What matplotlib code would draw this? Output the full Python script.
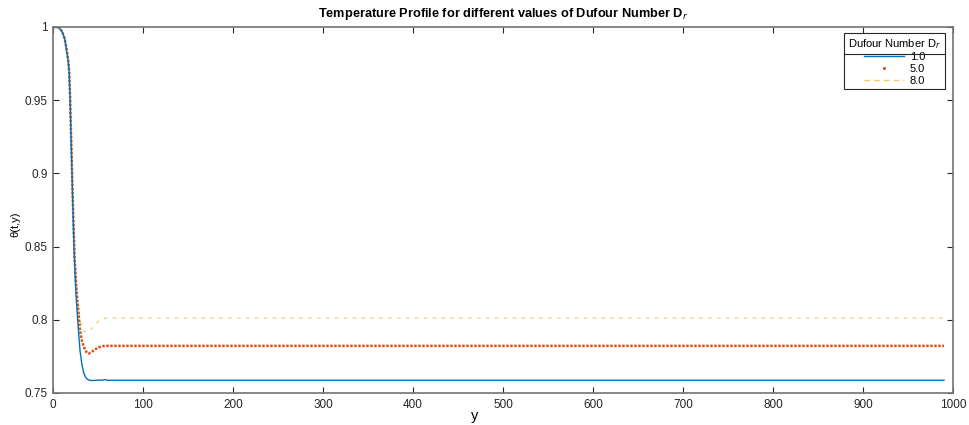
import numpy as np
import matplotlib
matplotlib.use('Agg')
import matplotlib.pyplot as plt
from matplotlib.lines import Line2D

plt.rcParams['font.family'] = ['Liberation Sans', 'DejaVu Sans']

# y positions (shared by all three series)
y_pos = [0, 4, 7, 10, 13, 15, 17, 18, 19, 20, 21, 22, 23, 24, 25, 26, 28, 30,
         32, 34, 36, 38, 40, 43, 46, 50, 55, 58, 60, 100, 200, 300, 400, 500,
         600, 700, 800, 900, 990]

theta_dr1 = [1.0, 1.0, 0.9993, 0.997, 0.992, 0.984, 0.976, 0.968, 0.950, 0.925,
             0.902, 0.878, 0.856, 0.838, 0.824, 0.813, 0.795, 0.779, 0.770,
             0.764, 0.761, 0.7595, 0.7588, 0.7585, 0.7586, 0.7588, 0.7588,
             0.7592, 0.7587, 0.7587, 0.7587, 0.7587, 0.7587, 0.7587, 0.7587,
             0.7587, 0.7587, 0.7587, 0.7587]

theta_dr5 = [1.0, 1.0, 0.9993, 0.997, 0.992, 0.985, 0.977, 0.969, 0.952, 0.928,
             0.905, 0.882, 0.861, 0.843, 0.831, 0.821, 0.807, 0.793, 0.786,
             0.782, 0.779, 0.7773, 0.7770, 0.7780, 0.7795, 0.7810, 0.7820,
             0.7822, 0.7822, 0.7822, 0.7822, 0.7822, 0.7822, 0.7822, 0.7822,
             0.7822, 0.7822, 0.7822, 0.7822]

theta_dr8 = [1.0, 1.0, 0.9993, 0.997, 0.992, 0.985, 0.977, 0.970, 0.953, 0.930,
             0.907, 0.885, 0.864, 0.846, 0.834, 0.825, 0.810, 0.800, 0.796,
             0.793, 0.7918, 0.7915, 0.7918, 0.7940, 0.7965, 0.7988, 0.8005,
             0.8010, 0.8013, 0.8012, 0.8012, 0.8012, 0.8012, 0.8012, 0.8012,
             0.8012, 0.8012, 0.8012, 0.8012]

labels = ['1.0', '5.0', '8.0']

fig = plt.figure(figsize=(9.69, 4.25), dpi=100)
ax = fig.add_axes([0.0547, 0.0753, 0.9288, 0.8612])

ax.plot(y_pos, theta_dr8, color='#EDB120', lw=0.8, dashes=(3, 5), alpha=0.7)
ax.plot(y_pos, theta_dr5, color='#D95319', lw=1.8, dashes=(1, 0.6))
ax.plot(y_pos, theta_dr1, color='#0072BD', lw=1.0)

ax.set_xlim(0, 1000)
ax.set_ylim(0.75, 1.0)
ax.set_xticks(np.arange(0, 1001, 100))
ax.set_yticks([0.75, 0.8, 0.85, 0.9, 0.95, 1.0])
ax.set_yticklabels(['0.75', '0.8', '0.85', '0.9', '0.95', '1'])
ax.tick_params(direction='in', length=4, width=0.8, colors='0.15',
               labelsize=8.5, top=True, right=True, pad=4)
for s in ax.spines.values():
    s.set_color('0.45')
    s.set_linewidth(1.2)

ax.set_title('Temperature Profile for different values of Dufour Number D$_r$',
             fontsize=9.2, fontweight='bold', pad=7)
ax.set_xlabel('y', fontsize=10.5)
ax.xaxis.set_label_coords(0.469, -0.045)
ax.set_ylabel('θ(t,y)', fontsize=8)
ax.yaxis.set_label_coords(-0.036, 0.46)

handles = [Line2D([], [], color='#0072BD', lw=1.0),
           Line2D([], [], color='#D95319', ls='none', marker='.', ms=2.5),
           Line2D([], [], color='#EDB120', lw=1.0, dashes=(4, 3), alpha=0.7)]
leg = ax.legend(handles, labels, title='Dufour Number D$_r$', loc='upper right',
                bbox_to_anchor=(0.991, 0.984), borderaxespad=0,
                fontsize=8, title_fontsize=8,
                handlelength=3.6, handletextpad=0.5, fancybox=False,
                framealpha=1, edgecolor='0.15', borderpad=0.35,
                labelspacing=0.15)
leg.get_frame().set_linewidth(0.8)

fig.canvas.draw()
lb = leg.get_window_extent()
tb = leg.get_title().get_window_extent()
inv = fig.transFigure.inverted()
(x0, y0), (x1, y1) = inv.transform([[lb.x0, tb.y0 - 3], [lb.x1, tb.y0 - 3]])
fig.add_artist(Line2D([x0, x1], [y0, y1], color='0.15', lw=0.8))

fig.savefig('out.png', dpi=100)
